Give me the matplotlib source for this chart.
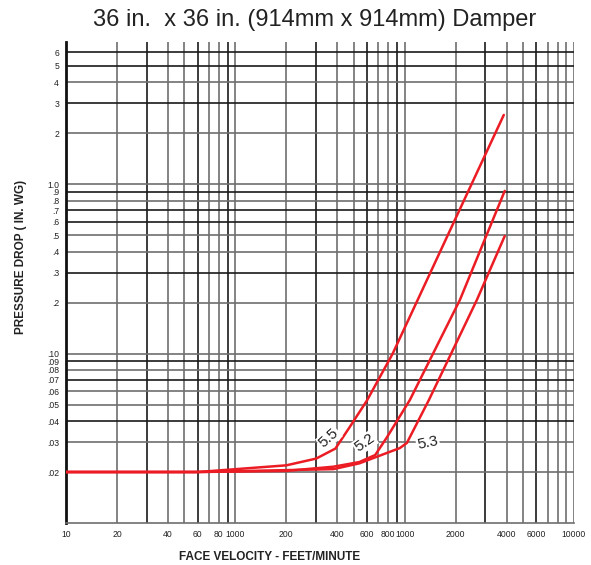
import matplotlib
matplotlib.use("Agg")
import matplotlib.pyplot as plt

# curve data (face velocity fpm, pressure drop in. wg)
vel_55 = [10, 60, 200, 300, 390, 475, 600, 850, 1980, 3850]
dp_55 = [0.02, 0.02, 0.0219, 0.0240, 0.0275, 0.0370, 0.053, 0.100, 0.615, 2.56]

vel_52 = [10, 60, 200, 380, 540, 670, 785, 1073, 2118, 3900]
dp_52 = [0.02, 0.02, 0.0203, 0.0215, 0.0229, 0.0252, 0.0320, 0.0532, 0.207, 0.912]

vel_53 = [10, 60, 380, 540, 937, 1031, 1390, 2668, 3900]
dp_53 = [0.02, 0.02, 0.0208, 0.0225, 0.0277, 0.0297, 0.0532, 0.207, 0.494]

curve_names = ["5.5", "5.2", "5.3"]
label_pos = [(357, 0.0318), (582, 0.0297), (1371, 0.0297)]
label_rot = [42, 35, 12]

x_ticks = [10, 20, 40, 60, 80, 100, 200, 400, 600, 800, 1000, 2000, 4000, 6000, 10000]
x_tick_labels = ["10", "20", "40", "60", "80", "1000", "200", "400", "600", "800",
                 "1000", "2000", "4000", "6000", "10000"]
y_ticks = [6, 5, 4, 3, 2, 1.0, 0.9, 0.8, 0.7, 0.6, 0.5, 0.4, 0.3, 0.2,
           0.10, 0.09, 0.08, 0.07, 0.06, 0.05, 0.04, 0.03, 0.02]
y_tick_labels = ["6", "5", "4", "3", "2", "1.0", ".9", ".8", ".7", ".6", ".5", ".4",
                 ".3", ".2", ".10", ".09", ".08", ".07", ".06", ".05", ".04", ".03", ".02"]

x_grid = [m * d for d in (10, 100, 1000) for m in range(2, 10)] + [100, 1000, 10000]
x_dark = [30, 60, 90, 300, 600, 900, 3000, 6000]
y_grid = [m * d for d in (0.01, 0.1, 1) for m in range(2, 10)] + [0.1, 1.0]
y_grid = [v for v in y_grid if v < 6.9]
y_dark = [6, 5, 3, 0.9, 0.7, 0.6, 0.3, 0.09, 0.07, 0.04]

font = ["Liberation Sans", "DejaVu Sans"]

fig = plt.figure(figsize=(5.91, 5.65), dpi=100)
ax = fig.add_axes([0.1117, 0.0743, 0.8595, 0.8514])
ax.set_xscale("log")
ax.set_yscale("log")
ax.set_xlim(10, 10000)
ax.set_ylim(0.01, 6.9)

# grid drawn by hand, mix of black and grey lines like the scanned chart
for v in x_grid:
    c = "#1a1a1a" if any(abs(v - d) < 1e-6 for d in x_dark) else "#6e6e6e"
    ax.axvline(v, color=c, lw=1.2, zorder=1)
for v in y_grid:
    c = "#1a1a1a" if any(abs(v - d) < 1e-9 for d in y_dark) else "#6e6e6e"
    ax.axhline(v, color=c, lw=1.2, zorder=1)

for vx, vy in [(vel_55, dp_55), (vel_52, dp_52), (vel_53, dp_53)]:
    ax.plot(vx, vy, color="#ec1c24", lw=1.8, zorder=3, solid_capstyle="round")

for name, (lx, ly), rot in zip(curve_names, label_pos, label_rot):
    ax.text(lx, ly, name, rotation=rot, ha="center", va="center", fontsize=11,
            family=font, color="#222222", zorder=4,
            bbox=dict(facecolor="white", edgecolor="none", pad=0.8))

ax.minorticks_off()
ax.set_xticks(x_ticks)
ax.set_xticklabels(x_tick_labels, family=font, fontsize=6.2)
ax.set_yticks(y_ticks)
ax.set_yticklabels(y_tick_labels, family=font, fontsize=6.2)
ax.tick_params(length=0, pad=4, colors="#222222")
ax.tick_params(axis="y", pad=5)
ax.tick_params(axis="x", pad=5)

ax.spines["top"].set_visible(False)
ax.spines["right"].set_visible(False)
ax.spines["left"].set_color("#111111")
ax.spines["left"].set_linewidth(2.0)
ax.spines["bottom"].set_color("#6e6e6e")
ax.spines["bottom"].set_linewidth(1.2)

fig.text(270 / 591, 1 - 557 / 565, "FACE VELOCITY - FEET/MINUTE", family=font,
         fontweight="bold", fontsize=8.5, ha="center", va="center", color="#222222")
fig.text(21 / 591, 1 - 257 / 565, "PRESSURE DROP ( IN. WG)", family=font,
         fontweight="bold", fontsize=8.5, ha="center", va="center", rotation=90,
         color="#222222")
fig.text(0.533, 0.965, "36 in.  x 36 in. (914mm x 914mm) Damper", ha="center",
         va="center", fontsize=17, family=font, color="#222222")

fig.savefig("out.png", dpi=100)
